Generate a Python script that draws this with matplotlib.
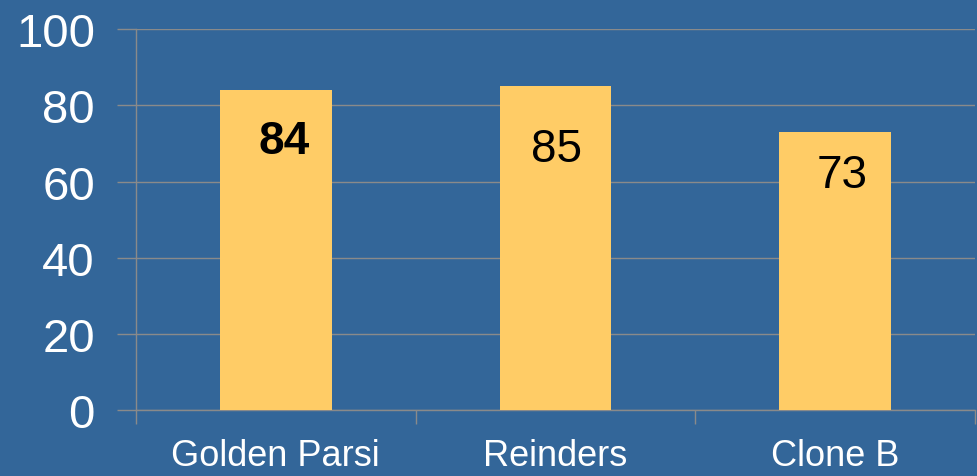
import numpy as np
import matplotlib
matplotlib.use("Agg")
import matplotlib.pyplot as plt

# data
categories = ["Golden Parsi", "Reinders", "Clone B"]
values = [84, 85, 73]
label_bold = [True, False, False]
yticks = [0, 20, 40, 60, 80, 100]

BG = "#336699"
BAR = "#FFCC66"
GRID = "#8a8a8a"

plt.rcParams["font.family"] = ["Liberation Sans", "DejaVu Sans"]

fig = plt.figure(figsize=(9.78, 4.77), dpi=100, facecolor=BG)
ax = fig.add_axes([0.139, 0.138, 0.858, 0.799])
ax.set_facecolor(BG)

x = np.arange(len(categories))
ax.bar(x, values, width=0.4, color=BAR, zorder=3)

# value labels sit a bit below the bar top (offsets in points)
label_dy = [-37, -45, -31]
label_dx = [6, 1, 5]
for xi, v, b, dx, dy in zip(x, values, label_bold, label_dx, label_dy):
    ax.annotate(str(v), (xi, v), xytext=(dx, dy), textcoords="offset points",
                ha="center", va="center", fontsize=33,
                fontweight="bold" if b else "normal", color="black", zorder=4)

ax.set_xlim(-0.5, len(categories) - 0.5)
ax.set_ylim(0, 100)
ax.set_yticks(yticks)
ax.yaxis.grid(True, color=GRID, lw=1, zorder=0)
ax.tick_params(axis="y", colors=GRID, length=14, width=1, pad=15.5,
               labelcolor="white", labelsize=34)

# category boundaries as major ticks, names on minor ticks
ax.set_xticks(np.arange(len(categories) + 1) - 0.5)
ax.set_xticklabels([])
ax.set_xticks(x, minor=True)
ax.set_xticklabels(categories, minor=True)
ax.tick_params(axis="x", which="major", colors=GRID, length=10, width=1)
ax.tick_params(axis="x", which="minor", length=0, pad=20,
               labelcolor="white", labelsize=26)

for s in ["top", "right"]:
    ax.spines[s].set_visible(False)
for s in ["left", "bottom"]:
    ax.spines[s].set_color(GRID)
    ax.spines[s].set_linewidth(1)

fig.savefig("out.png", dpi=100, facecolor=BG)
